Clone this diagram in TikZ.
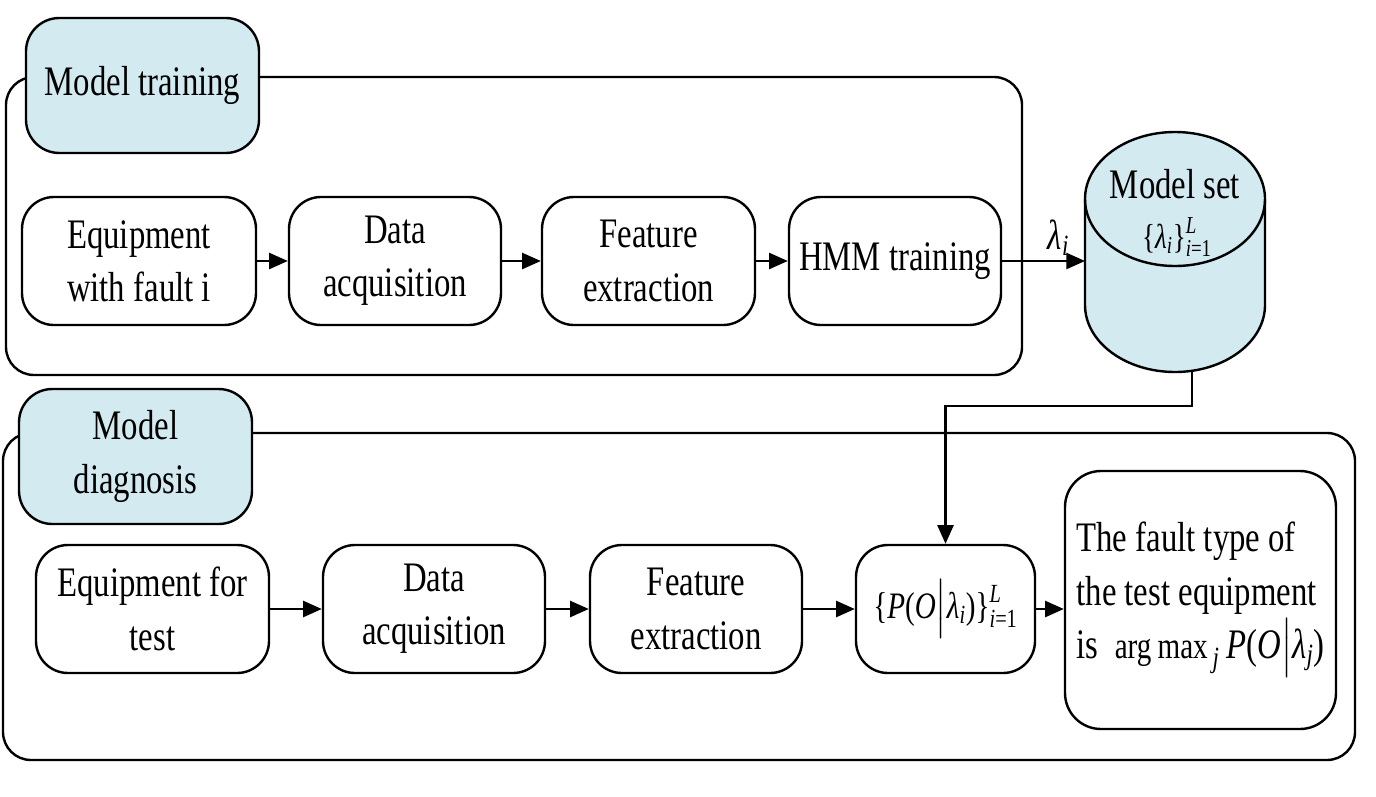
\RequirePackage{fix-cm}
\documentclass[tikz,border=0pt]{standalone}
\usepackage{amsmath}
\usepackage{fontspec}
\setmainfont[FakeStretch=0.78]{Liberation Serif}
\usetikzlibrary{arrows.meta}

\newcommand{\mi}[1]{\text{\itshape #1}}
\newcommand{\mt}[1]{\text{#1}}

\definecolor{lblue}{RGB}{210,234,240}
\tikzset{every picture/.style={line width=1.8pt}}

\begin{document}
\begin{tikzpicture}[x=0.75pt,y=0.75pt,yscale=-1,xscale=1,
	font=\fontsize{31.5}{40}\selectfont,
	stepbox/.style={draw, rounded corners=24pt, align=center, inner sep=0pt, minimum height=96pt},
	phasebox/.style={draw, fill=lblue, rounded corners=25pt, align=center, inner sep=0pt, minimum width=174.75pt, minimum height=101.25pt},
	flow/.style={-{Triangle[length=14pt,width=12pt]}}]
	\useasboundingbox (0,0) rectangle (1376,796);

	%Shape: Rounded Rect
	\draw [rounded corners=21pt] (6,77) rectangle (1022,375);
	%Shape: Rounded Rect
	\draw [rounded corners=21pt] (3,433) rectangle (1355,760);

	% Text Node
	\node [phasebox] (lbtrain) at (142.5,85.5) {Model training};
	% Text Node
	\node [phasebox] (lbdiag) at (135.5,456.5) {Model\\diagnosis};

	% Text Node
	\node [stepbox, minimum width=175.5pt] (eqf) at (139,261) {Equipment\\with fault i};
	% Text Node
	\node [stepbox, minimum width=159pt] (daq1) at (395,261) {Data\\acquisition};
	% Text Node
	\node [stepbox, minimum width=159.75pt] (fex1) at (648.5,261) {Feature\\extraction};
	% Text Node
	\node [stepbox, minimum width=159pt] (hmm) at (895,261) {HMM training};

	%Shape: Can
	\filldraw [fill=lblue] (1085,199) -- (1085,305) .. controls (1085,342) and (1125.3,372) .. (1175,372) .. controls (1224.7,372) and (1265,342) .. (1265,305) -- (1265,199) .. controls (1265,162) and (1224.7,132) .. (1175,132) .. controls (1125.3,132) and (1085,162) .. (1085,199) -- cycle ;
	\draw (1085,199) .. controls (1085,236) and (1125.3,266) .. (1175,266) .. controls (1224.7,266) and (1265,236) .. (1265,199) ;
	% Text Node
	\node (mset) at (1175,184) {Model set};
	\node [font=\fontsize{26}{32}\selectfont] (msetf) at (1177,237) {$\mt{\{}\mi{λ}_{\mi{i}}\mt{\}}^{\mi{L}}_{\mi{i}\mt{=1}}$};
	\coordinate (msetw) at (1085,261);
	\coordinate (msets) at (1192,371);

	% Text Node
	\node [stepbox, minimum width=174.75pt] (eqt) at (152.5,609) {Equipment for\\test};
	% Text Node
	\node [stepbox, minimum width=166.5pt] (daq2) at (434,609) {Data\\acquisition};
	% Text Node
	\node [stepbox, minimum width=159pt] (fex2) at (696,609) {Feature\\extraction};
	% Text Node
	\node [stepbox, minimum width=134.25pt, font=\fontsize{28}{34}\selectfont] (prob) at (945.5,609) {$\mt{\{}\mi{P}\mt{(}\mi{O}\big|\mi{λ}_{\mi{i}}\mt{)\}}^{\mi{L}}_{\mi{i}\mt{=1}}$};
	% Text Node
	\node [stepbox, rounded corners=27pt, minimum width=203.25pt, minimum height=193.5pt, align=left] (res) at (1200.5,600) {The fault type of\\the test equipment\\is\ \ $\text{\fontsize{28}{32}\selectfont arg\,max}_{\,\mi{j}}\,\mi{P}\mt{(}\mi{O}\big|\mi{λ}_{\mi{j}}\mt{)}$};

	%Straight Lines
	\draw [flow] (eqf) -- (daq1);
	\draw [flow] (daq1) -- (fex1);
	\draw [flow] (fex1) -- (hmm);
	\draw [flow] (hmm) -- node [above, pos=0.68] {$\mi{λ}_{\mi{i}}$} (msetw);
	\draw [flow] (msets) -- ++(0,35) -| (prob.north);
	\draw [flow] (eqt) -- (daq2);
	\draw [flow] (daq2) -- (fex2);
	\draw [flow] (fex2) -- (prob);
	\draw [flow] (prob) -- (prob.east -| res.west);

\end{tikzpicture}
\end{document}
